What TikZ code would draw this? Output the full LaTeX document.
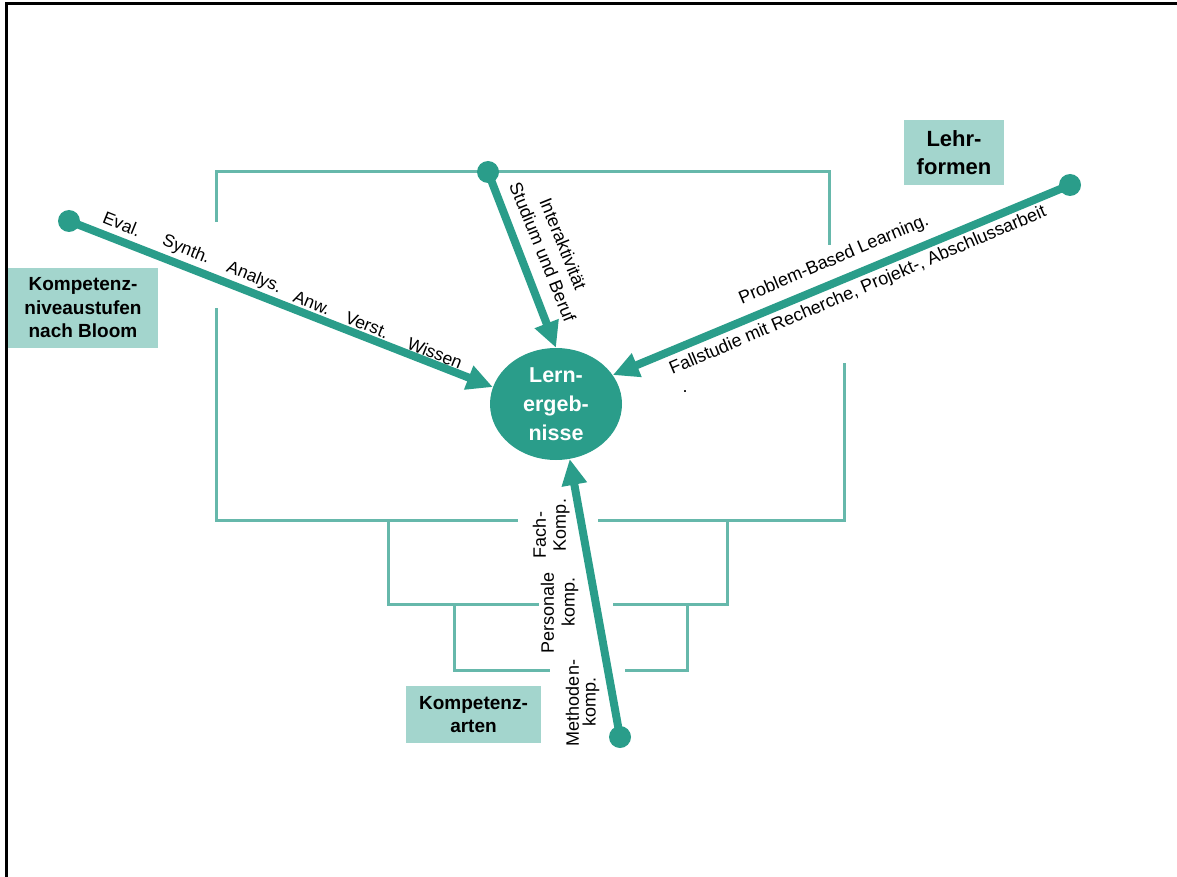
\documentclass[tikz,border=0pt]{standalone}
\usepackage{fontspec}
\setmainfont{Liberation Sans}
\usetikzlibrary{arrows.meta,shapes.geometric}
\definecolor{tealA}{HTML}{2A9D8A}
\definecolor{tealB}{HTML}{66B8AB}
\definecolor{boxc}{HTML}{A3D5CD}
\begin{document}
\begin{tikzpicture}[x=1pt,y=-1pt,
  bracket/.style={tealB, line width=3pt},
  conn/.style={tealA, line width=8pt, -{Triangle[length=26pt,width=24pt]}},
  dotn/.style={circle, fill=tealA, minimum size=22pt, inner sep=0pt},
  lbl/.style={font=\fontsize{17.5}{21}\selectfont, inner sep=0pt},
  lblb/.style={font=\fontsize{18}{22}\selectfont, inner sep=0pt, align=center},
  boxn/.style={fill=boxc, align=center, inner sep=0pt, font=\bfseries\fontsize{19}{23.5}\selectfont}]
\useasboundingbox (0,0) rectangle (1177,877);
% frame
\draw[line width=3pt] (6,877) -- (6,4) -- (1177,4);
% brackets
\draw[bracket] (216,222) -- (216,172) -- (829,172) -- (829,245);
\draw[bracket] (216,308) -- (216,520) -- (518,520);
\draw[bracket] (844,363) -- (844,520) -- (598,520);
\draw[bracket] (388,520) -- (388,604) -- (539,604);
\draw[bracket] (727,520) -- (727,604) -- (613,604);
\draw[bracket] (454,604) -- (454,670) -- (550,670);
\draw[bracket] (687,604) -- (687,670) -- (625,670);
% centre
\node[ellipse, fill=tealA, minimum width=132pt, minimum height=112pt, inner sep=0pt,
  text=white, align=center, font=\bfseries\fontsize{21.5}{29}\selectfont] (ell) at (556,404) {Lern-\\ergeb-\\nisse};
% dots
\node[dotn] (d1) at (69,221) {};
\node[dotn] (d2) at (488,172) {};
\node[dotn] (d3) at (1070,185) {};
\node[dotn] (d4) at (620,737) {};
% arrows
\draw[conn] (d1.center) -- (ell.165);
\draw[conn] (d2.center) -- (ell.north);
\draw[conn] (d3.center) -- (ell.27);
\draw[conn] (d4.center) -- (ell.-76);
% boxes
\node[boxn, minimum width=150pt, minimum height=80pt] (b1) at (83,308) {Kompetenz-\\niveaustufen\\nach Bloom};
\node[boxn, minimum width=100pt, minimum height=65pt, font=\bfseries\fontsize{22}{28}\selectfont] (b2) at (954,152.5) {Lehr-\\formen};
\node[boxn, minimum width=135pt, minimum height=57pt] (b3) at (473.5,714.5) {Kompetenz-\\arten};
% Bloom labels
\node[lbl, rotate=-22] (l1) at (122,224) {Eval.};
\node[lbl, rotate=-22] (l2) at (186,250) {Synth.};
\node[lbl, rotate=-22] (l3) at (254,278) {Analys.};
\node[lbl, rotate=-22] (l4) at (312,303) {Anw.};
\node[lbl, rotate=-22] (l5) at (367,325) {Verst.};
\node[lbl, rotate=-22] (l6) at (435,353) {Wissen};
% arrow 2 labels
\node[lblb, rotate=-68] (l7) at (553,248) {Interaktivität\\Studium und Beruf};
% arrow 3 labels
\node[lblb, rotate=23] (l8) at (834,260) {Problem-Based Learning.};
\node[lblb, rotate=23] (l9) at (858,291) {Fallstudie mit Recherche, Projekt-, Abschlussarbeit};
\node[lblb] (l10) at (685,392) {.};
% arrow 4 labels
\node[lblb, rotate=90] (l11) at (539.5,535) {Fach-};
\node[lblb, rotate=90] (l12) at (561.5,525) {Komp.};
\node[lblb, rotate=90] (l13) at (547.5,613) {Personale};
\node[lblb, rotate=90] (l14) at (570,602) {komp.};
\node[lblb, rotate=90] (l15) at (572.5,703) {Methoden-};
\node[lblb, rotate=90] (l16) at (591,702) {komp.};
\end{tikzpicture}
\end{document}
